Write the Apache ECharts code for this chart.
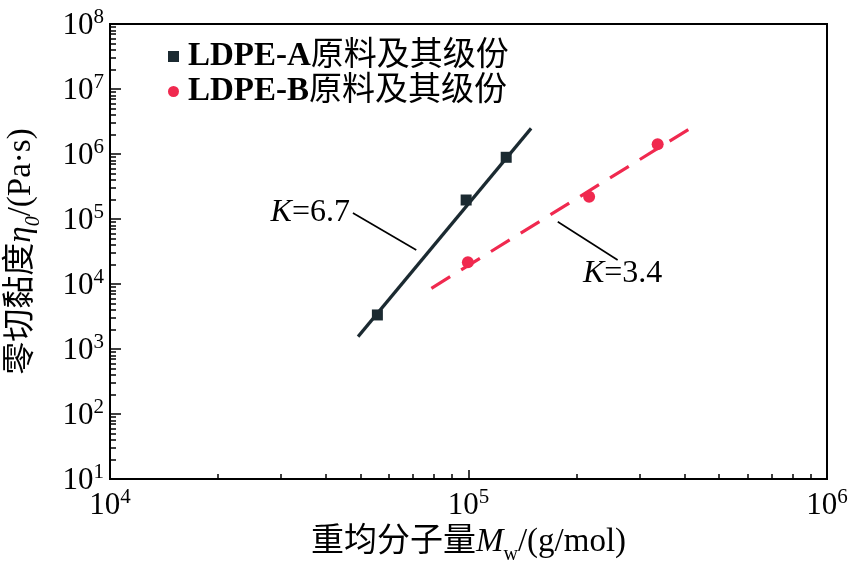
<!DOCTYPE html>
<html><head><meta charset="utf-8">
<script src="https://cdn.jsdelivr.net/npm/echarts@6/dist/echarts.min.js"></script>
<style>html,body{margin:0;padding:0;background:#fff}#c{width:853px;height:564px}</style>
</head><body><div id="c"></div>
<script>
// ---- data ----
const seriesNames = ['LDPE-A原料及其级份', 'LDPE-B原料及其级份'];
const ldpeA_Mw  = [55700, 98500, 127400];
const ldpeA_eta = [3340, 196000, 890000];
const ldpeB_Mw  = [99600, 217000, 337000];
const ldpeB_eta = [21600, 220000, 1410000];
const fitA_Mw  = [49200, 149500];
const fitA_eta = [1550, 2480000];
const fitB_Mw  = [78800, 430000];
const fitB_eta = [8590, 2790000];
const leaderA_Mw  = [47600, 71500];
const leaderA_eta = [123600, 33400];
const leaderB_Mw  = [177400, 260600];
const leaderB_eta = [90800, 23400];
const slopeLabels = ['6.7', '3.4'];
const xDecades = [1e4, 1e5, 1e6];
const yDecades = [1e1, 1e2, 1e3, 1e4, 1e5, 1e6, 1e7, 1e8];
const minorMult = [2, 3, 4, 5, 6, 7, 8, 9];

const FF = '"Liberation Serif","Times New Roman","Noto Sans CJK SC",serif';
const DARK = '#1b2a31';
const RED = '#f0294f';

function zip(a, b) { return a.map((v, i) => [v, b[i]]); }
function minors(decs) {
  const out = [];
  for (let i = 0; i < decs.length - 1; i++) minorMult.forEach(m => out.push(decs[i] * m));
  return out;
}
const powRich = {
  b: { fontSize: 31, fontFamily: FF, color: '#000', verticalAlign: 'bottom' },
  s: { fontSize: 21, fontFamily: FF, color: '#000', verticalAlign: 'bottom', padding: [0, 0, 13, 0] }
};
function powLabel(v) { return '{b|10}{s|' + Math.round(Math.log10(v)) + '}'; }

const nameRich = {
  t: { fontSize: 33, fontFamily: FF, color: '#000', verticalAlign: 'bottom', padding: [0, 0, 6, 0] },
  i: { fontSize: 33, fontFamily: FF, fontStyle: 'italic', color: '#000', verticalAlign: 'bottom', padding: [0, 0, 6, 0] },
  sub: { fontSize: 20, fontFamily: FF, color: '#000', verticalAlign: 'bottom' },
  subi: { fontSize: 20, fontFamily: FF, fontStyle: 'italic', color: '#000', verticalAlign: 'bottom' }
};

const chart = echarts.init(document.getElementById('c'), null, { renderer: 'canvas' });
const xMin = xDecades[0], xMax = xDecades[xDecades.length - 1];
const yMin = yDecades[0], yMax = yDecades[yDecades.length - 1];

const option = {
  animation: false,
  backgroundColor: '#fff',
  grid: {
    left: 110, right: 26, top: 24, bottom: 85, containLabel: false, outerBoundsMode: 'none',
    show: true, borderColor: '#000', borderWidth: 2, backgroundColor: 'transparent'
  },
  legend: {
    orient: 'vertical', left: 163, top: 35, itemWidth: 11, itemHeight: 11, itemGap: 2,
    data: [{ name: seriesNames[0], icon: 'rect' }, { name: seriesNames[1], icon: 'circle' }],
    formatter: n => '{b|' + n.slice(0, 6) + '}{c|' + n.slice(6) + '}',
    textStyle: {
      fontSize: 33, lineHeight: 33, fontFamily: FF, color: '#000',
      rich: {
        b: { fontSize: 33, fontFamily: FF, fontWeight: 'bold', color: '#000', padding: [0, 0, 0, 4] },
        c: { fontSize: 33, fontFamily: FF, color: '#000' }
      }
    }
  },
  xAxis: [{
    type: 'log', logBase: 10, min: xMin, max: xMax, position: 'bottom',
    name: '{t|重均分子量}{i|M}{sub|w}{t|/(g/mol)}', nameLocation: 'middle', nameGap: 37,
    nameTextStyle: { rich: nameRich },
    axisLine: { show: true, lineStyle: { color: '#000', width: 2 } },
    axisTick: { show: true, inside: true, length: 9, lineStyle: { color: '#000', width: 1.5 } },
    axisLabel: { show: true, margin: 8, formatter: powLabel, rich: powRich },
    splitLine: { show: false }
  }, {
    type: 'log', logBase: 10, min: xMin, max: xMax, position: 'bottom', gridIndex: 0,
    axisLine: { show: false },
    axisTick: { show: true, inside: true, length: 5, customValues: minors(xDecades), lineStyle: { color: '#000', width: 1.5 } },
    axisLabel: { show: false }, splitLine: { show: false }
  }],
  yAxis: [{
    type: 'log', logBase: 10, min: yMin, max: yMax, position: 'left',
    name: '{t|零切黏度}{i|η}{subi|0}{t|/(Pa·s)}', nameLocation: 'middle', nameGap: 66, nameRotate: 90,
    nameTextStyle: { rich: nameRich },
    axisLine: { show: true, lineStyle: { color: '#000', width: 2 } },
    axisTick: { show: true, inside: true, length: 11, lineStyle: { color: '#000', width: 1.5 } },
    axisLabel: { show: true, margin: 6, formatter: powLabel, rich: powRich },
    splitLine: { show: false }
  }, {
    type: 'log', logBase: 10, min: yMin, max: yMax, position: 'left', gridIndex: 0,
    axisLine: { show: false },
    axisTick: { show: true, inside: true, length: 6, customValues: minors(yDecades), lineStyle: { color: '#000', width: 1.5 } },
    axisLabel: { show: false }, splitLine: { show: false }
  }],
  series: [
    {
      name: 'fitA', type: 'line', data: zip(fitA_Mw, fitA_eta), symbol: 'none', silent: true, z: 2,
      lineStyle: { color: DARK, width: 3.2 }
    },
    {
      name: 'fitB', type: 'line', data: zip(fitB_Mw, fitB_eta), symbol: 'none', silent: true, z: 2,
      lineStyle: { color: RED, width: 3.2, type: [22, 13] }
    },
    {
      name: 'leaderA', type: 'line', data: zip(leaderA_Mw, leaderA_eta), symbol: 'none', silent: true, z: 2,
      lineStyle: { color: '#000', width: 1.6 }
    },
    {
      name: 'leaderB', type: 'line', data: zip(leaderB_Mw, leaderB_eta), symbol: 'none', silent: true, z: 2,
      lineStyle: { color: '#000', width: 1.6 }
    },
    {
      name: 'slopeText', type: 'scatter', symbolSize: 0, silent: true, z: 3,
      itemStyle: { color: '#000', opacity: 1 },
      data: [
        { value: [leaderA_Mw[0], leaderA_eta[0]],
          label: { show: true, position: 'left', distance: 3, formatter: '{i|K}{t|=' + slopeLabels[0] + '}' } },
        { value: [leaderB_Mw[1], leaderB_eta[1]],
          label: { show: true, position: 'bottom', distance: -2, offset: [5, 0], formatter: '{i|K}{t|=' + slopeLabels[1] + '}' } }
      ],
      label: {
        color: '#000', opacity: 1,
        rich: {
          i: { fontSize: 32, fontFamily: FF, fontStyle: 'italic', color: '#000' },
          t: { fontSize: 32, fontFamily: FF, color: '#000' }
        }
      }
    },
    {
      name: seriesNames[0], type: 'scatter', data: zip(ldpeA_Mw, ldpeA_eta), symbol: 'rect', symbolSize: 11, z: 5,
      itemStyle: { color: DARK, opacity: 1 }
    },
    {
      name: seriesNames[1], type: 'scatter', data: zip(ldpeB_Mw, ldpeB_eta), symbol: 'circle', symbolSize: 12, z: 5,
      itemStyle: { color: RED, opacity: 1 }
    }
  ]
};
chart.setOption(option);
</script>
</body></html>
